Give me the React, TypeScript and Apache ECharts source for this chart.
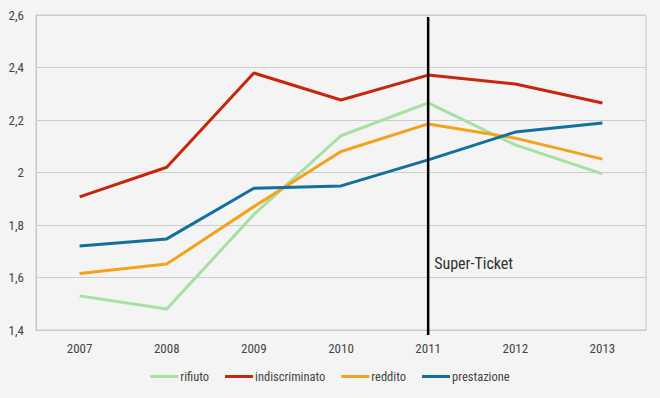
import React, { useEffect, useRef } from "react";
import * as echarts from "echarts";

const years = ["2007", "2008", "2009", "2010", "2011", "2012", "2013"];
const rifiuto = [1.53, 1.48, 1.84, 2.14, 2.265, 2.105, 1.995];
const indiscriminato = [1.907, 2.02, 2.379, 2.276, 2.371, 2.337, 2.265];
const reddito = [1.615, 1.651, 1.87, 2.08, 2.185, 2.131, 2.051];
const prestazione = [1.72, 1.747, 1.94, 1.949, 2.048, 2.154, 2.189];
const markerYear = "2011";
const markerLabel = "Super-Ticket";

const FONT = "'Roboto Condensed', 'DejaVu Sans Condensed', sans-serif";

export default function App() {
  const ref = useRef<HTMLDivElement>(null);
  useEffect(() => {
    document.body.style.margin = "0";
    const chart = echarts.init(ref.current!, null, { renderer: "svg" });
    const mk = (name: string, data: number[], color: string) => ({
      name,
      type: "line",
      data,
      symbol: "none",
      lineStyle: { color, width: 3 },
      itemStyle: { color },
    });
    chart.setOption({
      animation: false,
      backgroundColor: "#f4f4f4",
      textStyle: { fontFamily: FONT },
      grid: { left: 36, right: 14, top: 15, bottom: 68, show: true, borderColor: "#c8c8c8", borderWidth: 1 },
      xAxis: {
        type: "category",
        data: years,
        boundaryGap: true,
        axisLine: { show: true, lineStyle: { color: "#c8c8c8" } },
        axisTick: { show: false },
        axisLabel: { color: "#444", fontSize: 13, margin: 12, fontFamily: FONT },
      },
      yAxis: {
        type: "value",
        min: 1.4,
        max: 2.6,
        interval: 0.2,
        axisLine: { show: true, lineStyle: { color: "#c8c8c8" } },
        splitLine: { lineStyle: { color: "#cccccc" } },
        axisLabel: {
          color: "#444",
          fontSize: 13,
          margin: 12,
          fontFamily: FONT,
          formatter: (v: number) => String(Math.round(v * 10) / 10).replace(".", ","),
        },
      },
      legend: {
        bottom: 10,
        left: "center",
        icon: "rect",
        itemWidth: 28,
        itemHeight: 3,
        itemGap: 16,
        textStyle: { color: "#444", fontSize: 12.5, fontFamily: FONT, padding: [0, 0, 0, -3] },
        data: ["rifiuto", "indiscriminato", "reddito", "prestazione"],
      },
      series: [
        mk("rifiuto", rifiuto, "#a6e0a2"),
        mk("indiscriminato", indiscriminato, "#c8260c"),
        mk("reddito", reddito, "#f4a21e"),
        mk("prestazione", prestazione, "#136f9c"),
      ],
    });
    const x = chart.convertToPixel({ xAxisIndex: 0 }, markerYear) as number;
    const yTop = chart.convertToPixel({ yAxisIndex: 0 }, 2.6) as number;
    const yBot = chart.convertToPixel({ yAxisIndex: 0 }, 1.4) as number;
    const yLab = chart.convertToPixel({ yAxisIndex: 0 }, 1.652) as number;
    chart.setOption({
      graphic: [
        { type: "line", shape: { x1: x, y1: yTop + 2, x2: x, y2: yBot + 5 }, style: { stroke: "#000", lineWidth: 2.5 }, z: 100 },
        {
          type: "text",
          x: x + 6,
          y: yLab,
          style: { text: markerLabel, fill: "#333", font: `16px ${FONT}`, verticalAlign: "middle" },
          z: 100,
        },
      ],
    });
    return () => chart.dispose();
  }, []);
  return <div ref={ref} style={{ position: "absolute", left: 0, top: 0, width: 660, height: 398, background: "#f4f4f4" }} />;
}
